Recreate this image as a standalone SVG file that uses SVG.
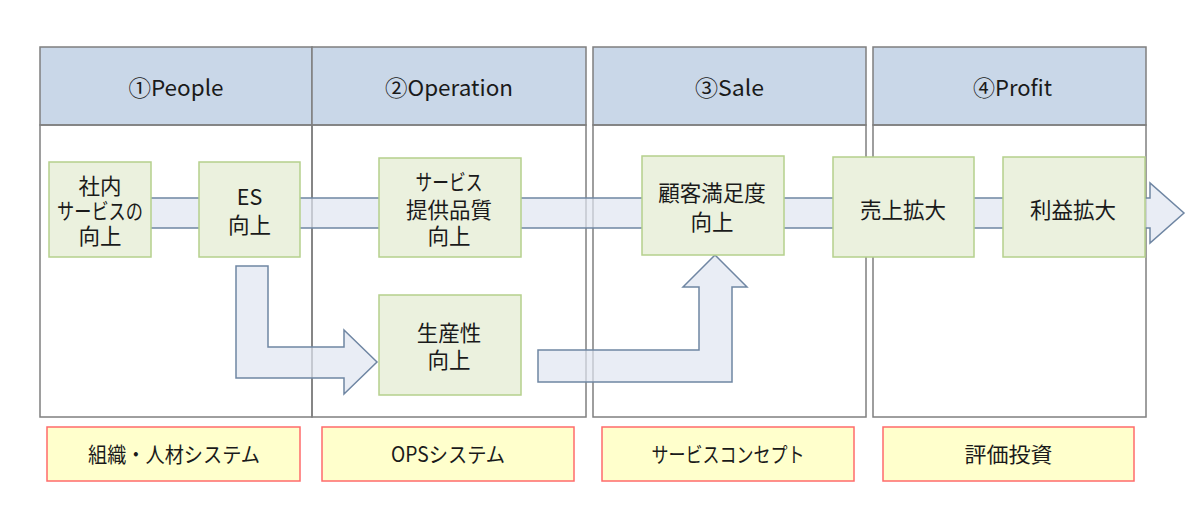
<svg xmlns="http://www.w3.org/2000/svg" width="1200" height="518" viewBox="0 0 1200 518">
<style>
.hdr{fill:#c9d7e8;stroke:#7f7f7f;stroke-width:1.5}
.body{fill:none;stroke:#7f7f7f;stroke-width:1.5}
.arrow{fill:#dfe6f1;fill-opacity:0.7;stroke:#6f86a3;stroke-width:1.5}
.node{fill:#ebf1de;stroke:#b5d08c;stroke-width:1.5}
.sys{fill:#ffffcc;stroke:#ff6b6b;stroke-width:1.5}
text{font-family:"Noto Sans CJK JP","Noto Sans",sans-serif;fill:#1a1a1a;text-anchor:middle}
.ht{font-size:22px}
.nt{font-size:21.5px}
.st{font-size:21px}
</style>
<rect width="1200" height="518" fill="#fff"/>
<g id="columns">
<rect class="hdr" x="40" y="47" width="272" height="78"/>
<rect class="body" x="40" y="125" width="272" height="292"/>
<rect class="hdr" x="312" y="47" width="274" height="78"/>
<rect class="body" x="312" y="125" width="274" height="292"/>
<rect class="hdr" x="593" y="47" width="273" height="78"/>
<rect class="body" x="593" y="125" width="273" height="292"/>
<rect class="hdr" x="873" y="47" width="273" height="78"/>
<rect class="body" x="873" y="125" width="273" height="292"/>
<text class="ht" x="176" y="96" textLength="95" lengthAdjust="spacingAndGlyphs">①People</text>
<text class="ht" x="449" y="96" textLength="128" lengthAdjust="spacingAndGlyphs">②Operation</text>
<text class="ht" x="729.5" y="96" textLength="69" lengthAdjust="spacingAndGlyphs">③Sale</text>
<text class="ht" x="1012.5" y="96" textLength="79" lengthAdjust="spacingAndGlyphs">④Profit</text>
</g>
<g id="connectors">
<polygon class="arrow" points="150,198 1150,198 1150,183 1184,213 1150,243 1150,228 150,228"/>
<polygon class="arrow" points="236,266 268,266 268,347 344,347 344,330 377,362 344,394 344,378 236,378"/>
<polygon class="arrow" points="538,350 699,350 699,287 683,287 715,255 747,287 732,287 732,382 538,382"/>
</g>
<g id="n1"><rect class="node" x="49" y="162" width="102" height="95"/>
<text class="nt" x="100" y="194">社内</text><text class="nt" x="100" y="219" textLength="86" lengthAdjust="spacingAndGlyphs">サービスの</text><text class="nt" x="100" y="244">向上</text></g>
<g id="n2"><rect class="node" x="199" y="162" width="101" height="95"/>
<text class="nt" x="249.5" y="205">ES</text><text class="nt" x="249.5" y="233">向上</text></g>
<g id="n3"><rect class="node" x="379" y="158" width="142" height="99"/>
<text class="nt" x="449" y="190" textLength="67" lengthAdjust="spacingAndGlyphs">サービス</text><text class="nt" x="449" y="218">提供品質</text><text class="nt" x="449" y="244">向上</text></g>
<g id="n4"><rect class="node" x="379" y="295" width="142" height="100"/>
<text class="nt" x="449" y="341">生産性</text><text class="nt" x="449" y="368">向上</text></g>
<g id="n5"><rect class="node" x="642" y="156" width="142" height="99"/>
<text class="nt" x="712" y="201">顧客満足度</text><text class="nt" x="712" y="230">向上</text></g>
<g id="n6"><rect class="node" x="833" y="157" width="141" height="100"/>
<text class="nt" x="903" y="218">売上拡大</text></g>
<g id="n7"><rect class="node" x="1003" y="157" width="142" height="100"/>
<text class="nt" x="1073" y="218">利益拡大</text></g>
<g id="s1"><rect class="sys" x="47" y="427" width="253" height="54"/><text class="st" x="174" y="462" textLength="172" lengthAdjust="spacingAndGlyphs">組織・人材システム</text></g>
<g id="s2"><rect class="sys" x="322" y="427" width="252" height="54"/><text class="st" x="448" y="462" textLength="114" lengthAdjust="spacingAndGlyphs">OPSシステム</text></g>
<g id="s3"><rect class="sys" x="602" y="427" width="252" height="54"/><text class="st" x="728" y="462" textLength="153" lengthAdjust="spacingAndGlyphs">サービスコンセプト</text></g>
<g id="s4"><rect class="sys" x="883" y="427" width="251" height="54"/><text class="st" x="1008.5" y="462" textLength="88" lengthAdjust="spacingAndGlyphs">評価投資</text></g>
</svg>
